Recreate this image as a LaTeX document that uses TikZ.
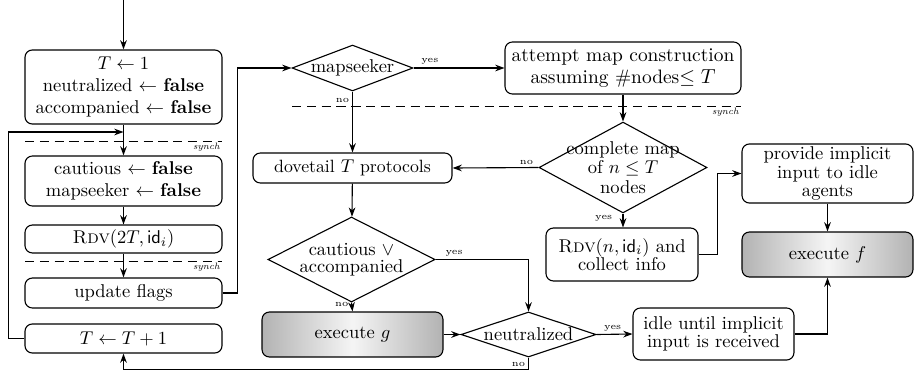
\documentclass[tikz,border=0pt]{standalone}
\usetikzlibrary{shapes.geometric,arrows.meta}
\begin{document}
\begin{tikzpicture}[x=0.54pt,y=-0.54pt,line width=0.6pt,
  arr/.style={-{Stealth[length=5pt,width=3.6pt]}},
  box/.style={draw,rounded corners=4pt,align=center,inner sep=0pt},
  lbox/.style={box,minimum width=106.4pt},
  tbox/.style={box,font=\fontsize{10}{10}\selectfont},
  exbox/.style={box,left color=gray!60,right color=gray!60,middle color=gray!8},
  dec/.style={draw,diamond,inner sep=0pt},
  lab/.style={font=\tiny,inner sep=1.5pt},
  syn/.style={font=\tiny\itshape,inner sep=1pt,anchor=north east},
  dsh/.style={line width=0.5pt,dash pattern=on 5pt off 3pt}]
\useasboundingbox (0,0) rectangle (915,371);
% left column
\node[lbox,minimum height=40pt] (init) at (123.5,87) {$T\leftarrow 1$\\ neutralized $\leftarrow$ \textbf{false}\\ accompanied $\leftarrow$ \textbf{false}};
\node[lbox,minimum height=27pt] (caut) at (123.5,181) {cautious $\leftarrow$ \textbf{false}\\ mapseeker $\leftarrow$ \textbf{false}};
\node[lbox,minimum height=15.1pt] (rdv) at (123.5,239) {\textsc{Rdv}$(2T,\mathsf{id}_i)$};
\node[lbox,minimum height=16.2pt] (upd) at (123.5,293) {update flags};
\node[lbox,minimum height=15.7pt] (inc) at (123.5,338.5) {$T\leftarrow T+1$};
\coordinate (start) at (123.5,0);
\coordinate (loopin) at (123.5,132);
% middle
\node[dec,minimum width=65.3pt,minimum height=24.8pt,label={center:mapseeker}] (ms) at (352.5,68) {};
\node[box,font=\fontsize{10.5}{11.5}\selectfont,minimum width=127.4pt,minimum height=28.1pt] (att) at (623,68) {attempt map construction\\ assuming \#nodes$\leq T$};
\node[box,font=\fontsize{9.6}{11}\selectfont,minimum width=107.5pt,minimum height=16.2pt] (dove) at (352.5,168) {dovetail $T$ protocols};
\node[dec,minimum width=90.7pt,minimum height=49.1pt,label={[align=center,font=\fontsize{10}{10.5}\selectfont]center:complete map\\ of $n\leq T$\\ nodes}] (cm) at (623,167.5) {};
\node[tbox,minimum width=82.1pt,minimum height=28.6pt] (rdvn) at (622,254.5) {\textsc{Rdv}$(n,\mathsf{id}_i)$ and\\ collect info};
\node[dec,minimum width=90.2pt,minimum height=45.9pt,label={[align=center,font=\fontsize{10}{9}\selectfont]center:cautious $\vee$\\ accompanied}] (cd) at (351.5,259.5) {};
\node[exbox,minimum width=97.7pt,minimum height=24.3pt] (exg) at (352.5,334.5) {execute $g$};
\node[dec,minimum width=72.9pt,minimum height=24.3pt,label={center:neutralized}] (ne) at (528.5,334.5) {};
\node[tbox,minimum width=86.9pt,minimum height=28.1pt] (idle) at (713.5,334) {idle until implicit\\ input is received};
% right
\node[tbox,minimum width=92.3pt,minimum height=31.9pt] (prov) at (827.5,173.5) {provide implicit\\ input to idle\\ agents};
\node[exbox,minimum width=92.3pt,minimum height=24.3pt] (exf) at (827.5,254.5) {execute $f$};
% synch lines
\draw[dsh] (25,141) -- (222,141) node[syn] {synch};
\draw[dsh] (25,261) -- (222,261) node[syn] {synch};
\draw[dsh] (292,106) -- (741,106) node[syn] {synch};
% connectors
\draw[arr] (start) -- (init);
\draw[arr] (init) -- (caut);
\draw[arr] (caut) -- (rdv);
\draw[arr] (rdv) -- (upd);
\draw[arr] (inc.west) -- ++(-16,0) |- (loopin);
\draw[arr] (upd.east) -- ++(15,0) |- (ms.west);
\draw[arr] (ms.east) -- node[lab,above,pos=0.18] {yes} (att.west);
\draw[arr] (ms.south) -- node[lab,left,pos=0.15] {no} (dove.north);
\draw[arr] (att.south -| cm.north) -- (cm.north);
\draw[arr] (cm.west) -- node[lab,above,pos=0.14] {no} (dove.east);
\draw[arr] (cm.south) -- node[lab,left,pos=0.35,xshift=-4pt] {yes} (rdvn.north -| cm.south);
\draw[arr] (rdvn.east) -- ++(19,0) |- (prov.west);
\draw[arr] (prov) -- (exf);
\draw[arr] (dove) -- (cd);
\draw[arr] (cd.south) -- node[lab,left,pos=0.2] {no} (exg.north);
\draw[arr] (cd.east) -- node[lab,above,pos=0.2] {yes} (cd.east -| ne.north) -- (ne.north);
\draw[arr] (exg) -- (ne);
\draw[arr] (ne.east) -- node[lab,above,pos=0.45] {yes} (idle.west);
\draw[arr] (ne.south) -- node[lab,left,pos=0.6] {no} ++(0,11.5) -| (inc.south);
\draw[arr] (idle.east) -| (exf.south);
\end{tikzpicture}
\end{document}
